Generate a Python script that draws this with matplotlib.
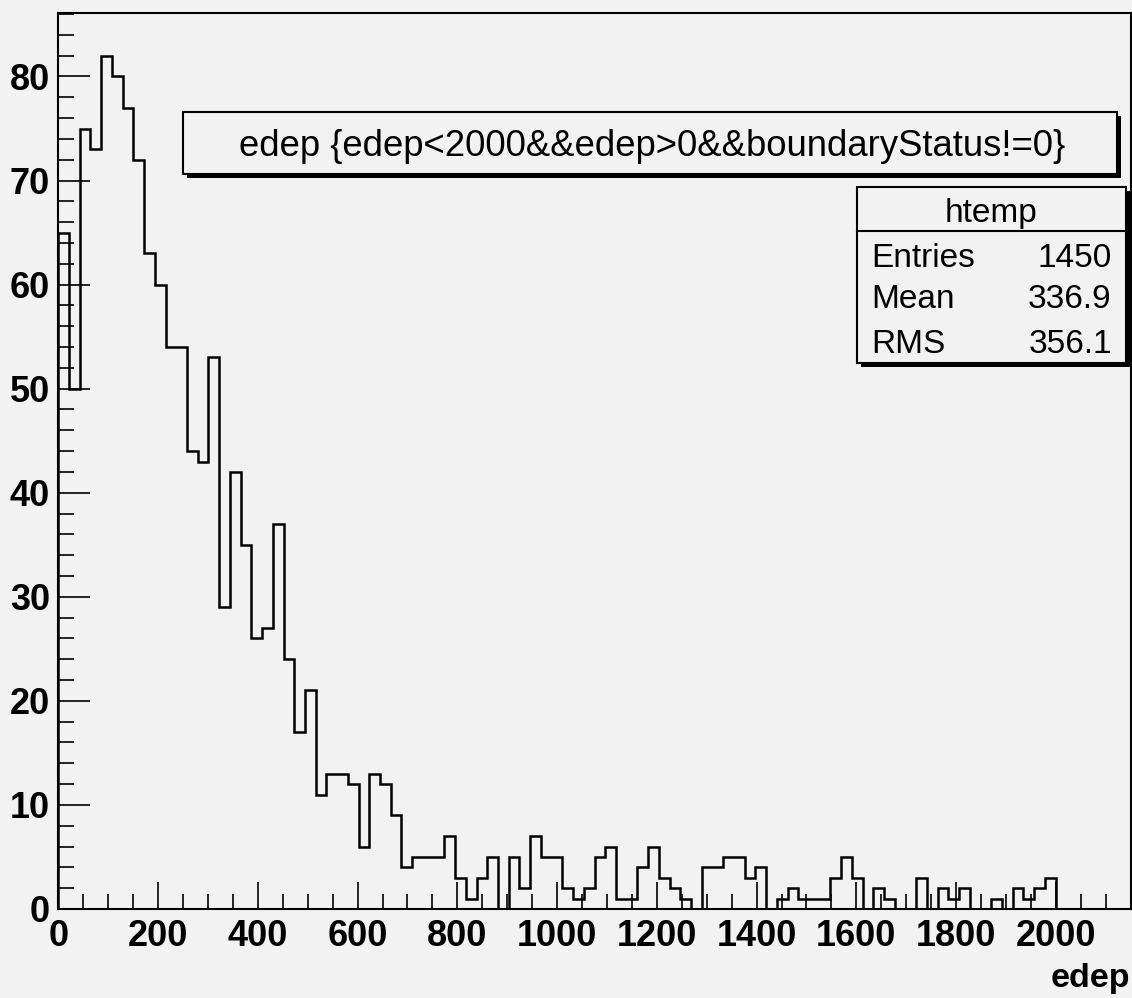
"""
ROOT-style histogram of edep (htemp) redrawn with matplotlib.
"""
import numpy as np
import matplotlib
matplotlib.use("Agg")
from matplotlib.ticker import MultipleLocator, FixedLocator
from matplotlib.patches import Rectangle
import matplotlib.pyplot as plt

# histogram data, 100 bins over [0, 2150]
x_min = 0.0
x_max = 2150.0
n_bins = 100
counts = [65, 50, 75, 73, 82, 80, 77, 72, 63, 60,
          54, 54, 44, 43, 53, 29, 42, 35, 26, 27,
          37, 24, 17, 21, 11, 13, 13, 12, 6, 13,
          12, 9, 4, 5, 5, 5, 7, 3, 1, 3,
          5, 0, 5, 2, 7, 5, 5, 2, 1, 2,
          5, 6, 1, 1, 4, 6, 3, 2, 1, 0,
          4, 4, 5, 5, 3, 4, 0, 1, 2, 1,
          1, 1, 3, 5, 3, 0, 2, 1, 0, 0,
          3, 0, 2, 1, 2, 0, 0, 1, 0, 2,
          1, 2, 3, 0, 0, 0, 0, 0, 0, 0]
x_ticks = [0, 200, 400, 600, 800, 1000, 1200, 1400, 1600, 1800, 2000]
y_ticks = [0, 10, 20, 30, 40, 50, 60, 70, 80]

title = 'edep {edep<2000&&edep>0&&boundaryStatus!=0}'
stats_name = 'htemp'
stats_rows = [('Entries', '1450'), ('Mean', '336.9'), ('RMS', '356.1')]

W, H = 1132, 998
BG = '#f2f2f2'
FONT = ['Liberation Sans', 'DejaVu Sans']


def px(x, y):
  """Pixel coords (top-left origin) to figure fraction."""
  return x / W, 1.0 - y / H


def box(fig, x0, y0, x1, y1, shadow=4):
  """Draws a ROOT-like pave with a black drop shadow."""
  fx0, fy1 = px(x0 + shadow, y1 + shadow)
  fx1, fy0 = px(x1 + shadow, y0 + shadow)
  fig.patches.append(Rectangle((fx0, fy1), fx1 - fx0, fy0 - fy1,
                               transform=fig.transFigure, facecolor='black',
                               edgecolor='none', zorder=5))
  fx0, fy1 = px(x0, y1)
  fx1, fy0 = px(x1, y0)
  fig.patches.append(Rectangle((fx0, fy1), fx1 - fx0, fy0 - fy1,
                               transform=fig.transFigure, facecolor=BG,
                               edgecolor='black', linewidth=1.5, zorder=6))


fig = plt.figure(figsize=(W / 100.0, H / 100.0), dpi=100, facecolor=BG)
l, t = px(58.3, 13)
r, b = px(1130.7, 909)
axs = fig.add_axes([l, b, r - l, t - b], facecolor=BG)

edges = np.linspace(x_min, x_max, n_bins + 1)
axs.stairs(counts, edges, color='black', linewidth=1.8, baseline=0)

axs.set_xlim(x_min, x_max)
axs.set_ylim(0, max(counts) * 1.05)

axs.xaxis.set_major_locator(FixedLocator(x_ticks))
axs.xaxis.set_minor_locator(MultipleLocator(50))
axs.yaxis.set_major_locator(FixedLocator(y_ticks))
axs.yaxis.set_minor_locator(MultipleLocator(2))
axs.set_xticklabels([str(v) for v in x_ticks])
axs.set_yticklabels([str(v) for v in y_ticks])

axs.tick_params(axis='x', which='major', direction='in', length=19.5,
                width=1.2, pad=7, labelsize=26)
axs.tick_params(axis='x', which='minor', direction='in', length=10.8,
                width=1.2)
axs.tick_params(axis='y', which='major', direction='in', length=23,
                width=1.2, pad=6, labelsize=26)
axs.tick_params(axis='y', which='minor', direction='in', length=11.3,
                width=1.2)
for lab in axs.get_xticklabels() + axs.get_yticklabels():
  lab.set_family(FONT)
  lab.set_fontweight('bold')
for sp in axs.spines.values():
  sp.set_linewidth(1.5)

# axis title
fx, fy = px(1130, 987)
fig.text(fx, fy, 'edep', ha='right', va='baseline', fontsize=24.5,
         family=FONT, fontweight='bold')

# title pave
box(fig, 183.3, 111.7, 1117, 174)
fx, fy = px(652, 156)
fig.text(fx, fy, title, ha='center', va='baseline', fontsize=26.3,
         family=FONT, zorder=7)

# stats pave
box(fig, 856.7, 186.7, 1126, 362.7)
fx0, fy = px(856.7, 231)
fx1, _ = px(1126, 231)
fig.lines.append(plt.Line2D([fx0, fx1], [fy, fy], transform=fig.transFigure,
                            color='black', linewidth=1.5, zorder=7))
fx, fy = px(991, 221.7)
fig.text(fx, fy, stats_name, ha='center', va='baseline', fontsize=24,
         family=FONT, zorder=7)
for (name, val), base in zip(stats_rows, [266.7, 308.3, 353.3]):
  fx, fy = px(871.7, base)
  fig.text(fx, fy, name, ha='left', va='baseline', fontsize=24,
           family=FONT, zorder=7)
  fx, fy = px(1111.7, base)
  fig.text(fx, fy, val, ha='right', va='baseline', fontsize=24,
           family=FONT, zorder=7)

plt.savefig('out.png', dpi=100, facecolor=BG)
plt.close()
